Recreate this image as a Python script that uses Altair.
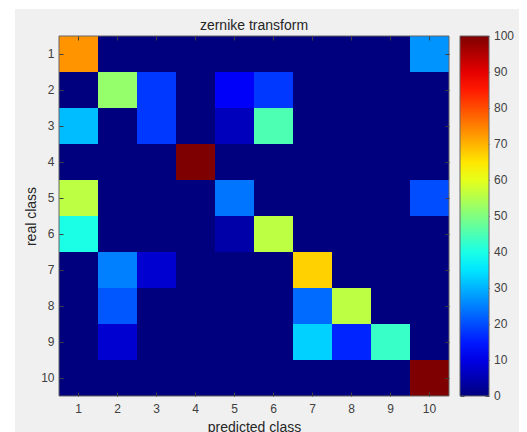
import altair as alt
import pandas as pd

# ---- data -------------------------------------------------------------
classes = [1, 2, 3, 4, 5, 6, 7, 8, 9, 10]
row1 = [73, 0, 0, 0, 0, 0, 0, 0, 0, 27]
row2 = [0, 52, 18, 0, 12, 18, 0, 0, 0, 0]
row3 = [31, 0, 18, 0, 6, 45, 0, 0, 0, 0]
row4 = [0, 0, 0, 100, 0, 0, 0, 0, 0, 0]
row5 = [56, 0, 0, 0, 24, 0, 0, 0, 0, 20]
row6 = [40, 0, 0, 0, 4, 56, 0, 0, 0, 0]
row7 = [0, 25, 8, 0, 0, 0, 67, 0, 0, 0]
row8 = [0, 21, 0, 0, 0, 0, 23, 56, 0, 0]
row9 = [0, 8, 0, 0, 0, 0, 33, 16, 43, 0]
row10 = [0, 0, 0, 0, 0, 0, 0, 0, 0, 100]
matrix = [row1, row2, row3, row4, row5, row6, row7, row8, row9, row10]
colorbar_ticks = [0, 10, 20, 30, 40, 50, 60, 70, 80, 90, 100]

records = []
for i, real in enumerate(classes):
    for j, pred in enumerate(classes):
        records.append({"real": real, "pred": pred, "value": matrix[i][j]})
df = pd.DataFrame(records)
df_cb = pd.DataFrame({"v": colorbar_ticks})

# jet colormap (domain ends nudged so end labels stay centred on the colorbar ends)
jet_domain = [-0.01, 12.5, 37.5, 62.5, 87.5, 100.01]
jet_range = ["#00007f", "#0000ff", "#00ffff", "#ffff00", "#ff0000", "#7f0000"]

FONT = "Liberation Sans"
TXT = "#404040"
W, H = 390, 360   # whole-pixel cells (39 x 36)
band = alt.Scale(paddingInner=0, paddingOuter=0)

# gray figure panel
bg = alt.Chart(alt.Data(values=[{}])).mark_rect(color="#f0f0f0").encode(
    x=alt.value(-44), x2=alt.value(460), y=alt.value(-27), y2=alt.value(396)
)

heat = alt.Chart(df).mark_rect().encode(
    x=alt.X(
        "pred:O", sort=classes, scale=band,
        axis=alt.Axis(
            orient="bottom", title="predicted class", offset=-4, tickSize=4,
            domain=False, labelPadding=7, labelAngle=0, titleX=W / 2, titleY=39,
            titleBaseline="alphabetic", zindex=1,
        ),
    ),
    y=alt.Y(
        "real:O", sort=classes, scale=band,
        axis=alt.Axis(
            orient="left", title="real class", offset=-4, tickSize=4,
            domain=False, labelPadding=5, titleX=-28, titleY=H / 2,
            titleBaseline="alphabetic", titleAngle=270, zindex=1,
        ),
    ),
    color=alt.Color(
        "value:Q",
        scale=alt.Scale(domain=jet_domain, range=jet_range, interpolate="rgb"),
        legend=alt.Legend(
            orient="none", legendX=401, legendY=0, direction="vertical",
            title=None, gradientLength=H, gradientThickness=29,
            values=colorbar_ticks, labelOffset=5, labelOverlap=False,
            labelBaseline="middle", labelAlign="left",
            gradientStrokeColor="#666666", gradientStrokeWidth=1,
            labelFont=FONT, labelFontSize=12, labelColor=TXT, zindex=1,
        ),
    ),
)

# inward ticks on top and right edges of the image
ticks = alt.Chart(df).mark_rect(opacity=0).encode(
    x=alt.X("pred:O", sort=classes, scale=band,
            axis=alt.Axis(orient="top", labels=False, title=None, domain=False,
                          offset=-4, tickSize=4, zindex=1)),
    y=alt.Y("real:O", sort=classes, scale=band,
            axis=alt.Axis(orient="right", labels=False, title=None, domain=False,
                          offset=-4, tickSize=4, zindex=1)),
)

# inward ticks on both edges of the colorbar
cb_left = alt.Chart(df_cb).mark_point(opacity=0).encode(
    y=alt.Y("v:Q", scale=alt.Scale(domain=[0, 100], nice=False, zero=False),
            axis=alt.Axis(orient="left", labels=False, title=None, domain=False,
                          grid=False, offset=-405, tickSize=4, values=colorbar_ticks,
                          zindex=1))
)
cb_right = alt.Chart(df_cb).mark_point(opacity=0).encode(
    y=alt.Y("v:Q", scale=alt.Scale(domain=[0, 100], nice=False, zero=False),
            axis=alt.Axis(orient="right", labels=False, title=None, domain=False,
                          grid=False, offset=36, tickSize=4, values=colorbar_ticks,
                          zindex=1))
)

frame = alt.Chart(alt.Data(values=[{}])).mark_rect(
    filled=False, stroke="#666666", strokeWidth=1
).encode(x=alt.value(0), x2=alt.value("width"), y=alt.value(0), y2=alt.value("height"))

chart = alt.layer(bg, heat, ticks, cb_left, cb_right, frame).resolve_axis(
    x="independent", y="independent"
).resolve_scale(y="independent").properties(
    width=W, height=H,
    autosize=alt.AutoSizeParams(type="none"),
    padding={"left": 59, "top": 36, "right": 78, "bottom": 36},
    background="white",
    title=alt.TitleParams(
        text="zernike transform", font=FONT, fontSize=14, fontWeight="normal",
        color="#262626", anchor="middle", frame="group", baseline="alphabetic",
        offset=7, dy=42, zindex=1,
    ),
).configure_view(stroke=None).configure_axis(
    labelFont=FONT, labelFontSize=12, labelColor=TXT,
    titleFont=FONT, titleFontSize=14, titleFontWeight="normal", titleColor="#262626",
    tickColor="#404040", tickWidth=1, grid=False,
)

chart.save("out.html", embed_options={"renderer": "svg", "actions": False})
